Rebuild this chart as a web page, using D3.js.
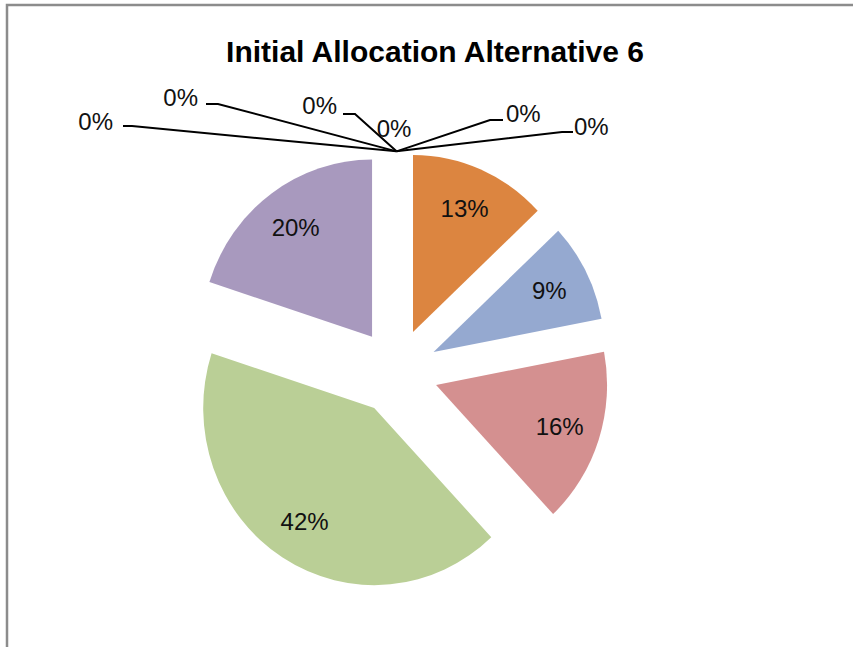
<!DOCTYPE html>
<html>
<head>
<meta charset="utf-8">
<script src="https://d3js.org/d3.v7.min.js"></script>
<style>
  body { margin: 0; background: #fff; }
  svg { display: block; }
</style>
</head>
<body>
<svg id="chart" width="853" height="647"></svg>
<script>
const svg = d3.select("svg#chart");

// slice values (percent), clockwise from 12 o'clock; the six zero slices sit at the top
const categories = ["A", "B", "C", "D", "E", "F", "G", "H", "I", "J", "K"];
const values = [13, 9, 16, 42, 20, 0, 0, 0, 0, 0, 0];
const colors = ["#DC8540", "#95A9D0", "#D49090", "#BACF96", "#A899BE",
                "#4BACC6", "#F79646", "#4F81BD", "#C0504D", "#9BBB59", "#8064A2"];
// label positions for the zero slices (elbow of leader line, end of line, label centre)
const zeroLabels = [
  {elbow: [132, 126], end: [123, 126], text: [113, 121], anchor: "end"},
  {elbow: [218, 104], end: [206, 104], text: [198, 97], anchor: "end"},
  {elbow: [355, 114], end: [343, 114], text: [337, 105], anchor: "end"},
  {elbow: null, end: null, text: [394, 128], anchor: "middle"},
  {elbow: [490, 120], end: [503, 120], text: [506, 113], anchor: "start"},
  {elbow: [562, 132], end: [573, 132], text: [574, 126], anchor: "start"}
];

const cx = 396.5, cy = 371.6;
const rx = 171, sy = 1.036;   // the pie is slightly taller than wide
const explode = 41.6;
const font = "Liberation Sans, Arial, sans-serif";

// border (chart area is clipped at right and bottom)
svg.append("path")
  .attr("d", "M7,647 L7,5 L853,5")
  .attr("fill", "none")
  .attr("stroke", "#8c8c8c")
  .attr("stroke-width", 2.5);

svg.append("text")
  .attr("x", 435).attr("y", 62)
  .attr("text-anchor", "middle")
  .attr("font-family", font)
  .attr("font-weight", "bold")
  .attr("font-size", 30)
  .attr("fill", "#000")
  .text("Initial Allocation Alternative 6");

const pie = d3.pie().sort(null).value(d => d)(values);
const arc = d3.arc().innerRadius(0).outerRadius(rx);

const g = svg.append("g").attr("transform", `translate(${cx},${cy}) scale(1,${sy})`);

g.selectAll("path.slice")
  .data(pie)
  .enter().append("path")
    .attr("class", "slice")
    .attr("fill", (d, i) => colors[i])
    .attr("transform", d => {
      const a = (d.startAngle + d.endAngle) / 2;
      return `translate(${explode * Math.sin(a)},${-explode * Math.cos(a)})`;
    })
    .attr("d", d => d.value > 0 ? arc(d) : null);

// labels of the non-zero slices
function labelPos(d) {
  const a = (d.startAngle + d.endAngle) / 2;
  const r = explode + rx * 0.76;
  return [cx + r * Math.sin(a), cy - r * Math.cos(a) * sy];
}
svg.selectAll("text.pct")
  .data(pie.filter(d => d.value > 0))
  .enter().append("text")
    .attr("class", "pct")
    .attr("x", d => labelPos(d)[0])
    .attr("y", d => labelPos(d)[1] + 8.5)
    .attr("text-anchor", "middle")
    .attr("font-family", font)
    .attr("font-size", 24)
    .attr("fill", "#111")
    .text(d => d.value + "%");

// zero slices: leader lines from the top of the pie
const zeroSlices = pie.filter(d => d.value === 0);
const topX = cx + (explode + rx) * Math.sin(zeroSlices[0].startAngle);
const topY = cy - (explode + rx) * Math.cos(zeroSlices[0].startAngle) * sy;

zeroSlices.forEach((d, i) => {
  const z = zeroLabels[i];
  if (z.elbow) {
    svg.append("polyline")
      .attr("points", [[topX, topY], z.elbow, z.end].map(p => p.join(",")).join(" "))
      .attr("fill", "none")
      .attr("stroke", "#000")
      .attr("stroke-width", 2);
  }
  svg.append("text")
    .attr("x", z.text[0]).attr("y", z.text[1] + 8.5)
    .attr("text-anchor", z.anchor)
    .attr("font-family", font)
    .attr("font-size", 24)
    .attr("fill", "#111")
    .text(d.value + "%");
});
</script>
</body>
</html>
